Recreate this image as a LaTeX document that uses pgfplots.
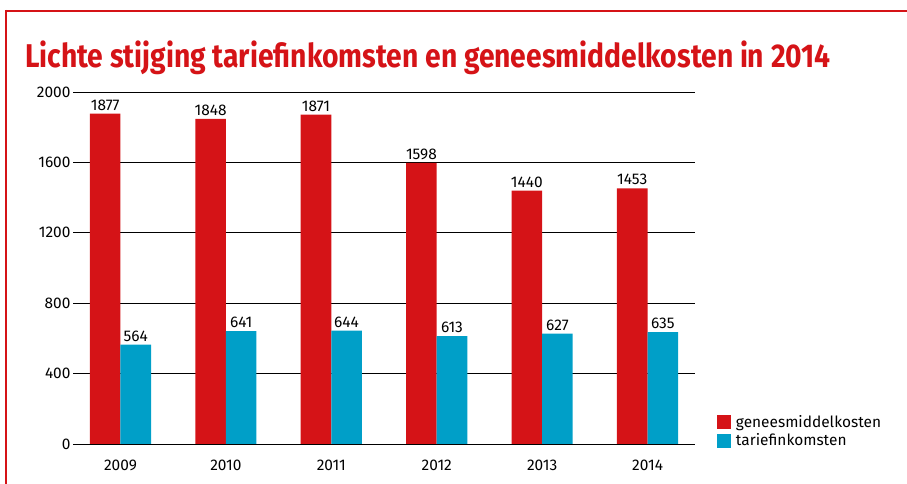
\documentclass[border=0pt]{standalone}
\usepackage{fontspec}
\setmainfont{Fira Sans}
\newfontfamily\titlefont[FakeStretch=0.86]{Fira Sans}
\usepackage{pgfplots}
\pgfplotsset{compat=1.18}
\definecolor{cred}{RGB}{213,19,23}
\definecolor{ccyan}{RGB}{0,159,200}
\begin{document}
\begin{tikzpicture}
\path[use as bounding box] (0,0) rectangle (907bp,484bp);
\draw[cred, line width=2bp] (5bp,473bp) -- (907bp,473bp);
\draw[cred, line width=2bp] (6bp,474bp) -- (6bp,0bp);
\node[anchor=base west, inner sep=0pt, text=cred] at (25bp,416bp) {\titlefont\bfseries\fontsize{33}{36}\selectfont Lichte stijging tariefinkomsten en geneesmiddelkosten in 2014};
\begin{axis}[
  at={(73bp,40bp)}, anchor=south west,
  scale only axis, width=622bp, height=352bp,
  xmin=-0.45, xmax=5.45, ymin=0, ymax=2000,
  ytick={0,400,...,2000},
  xtick={0,1,2,3,4,5},
  xticklabels={2009,2010,2011,2012,2013,2014},
  axis line style={draw=none},
  major tick length=0pt,
  ymajorgrids, grid style={black, line width=0.8bp},
  ybar, bar width=0.29,
  /pgf/number format/assume math mode=true,
  /pgf/number format/set thousands separator={},
  ticklabel style={font=\fontsize{15.5}{17}\selectfont},
  yticklabel style={xshift=1bp},
  xticklabel style={yshift=-12bp},
  nodes near coords,
  nodes near coords style={font=\fontsize{15.5}{17}\selectfont, black, /pgf/number format/set thousands separator={}, /pgf/number format/assume math mode=true, inner sep=3bp},
  legend style={at={(1.035,0.088)}, anchor=north west, draw=none, fill=none, font=\fontsize{15.5}{17}\selectfont, row sep=1bp, inner sep=0pt, nodes={inner xsep=5bp}},
  legend cell align=left,
  legend image code/.code={\fill[#1] (0bp,-7bp) rectangle (14bp,7bp);},
]
\addplot[fill=cred, draw=none, bar shift=-0.145] coordinates {(0,1877) (1,1848) (2,1871) (3,1598) (4,1440) (5,1453)};
\addplot[fill=ccyan, draw=none, bar shift=0.145] coordinates {(0,564) (1,641) (2,644) (3,613) (4,627) (5,635)};
\legend{geneesmiddelkosten, tariefinkomsten}
\end{axis}
\end{tikzpicture}
\end{document}
